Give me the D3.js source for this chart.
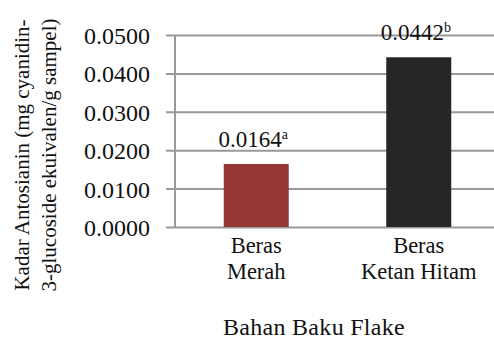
<!DOCTYPE html>
<html><head><meta charset="utf-8">
<script src="https://cdn.jsdelivr.net/npm/d3@7"></script>
</head><body style="margin:0;background:#fff"><svg id="c" width="494" height="341" style="font-family:'Times New Roman'"></svg>
<script>
const categories = [["Beras","Merah"],["Beras","Ketan Hitam"]];
const values = [0.0164, 0.0442];
const letters = ["a","b"];
const yTicks = [0, 0.01, 0.02, 0.03, 0.04, 0.05];
const barColors = ["#953735", "#262626"];
const yTitle = ["Kadar Antosianin (mg cyanidin-", "3-glucoside ekuivalen/g sampel)"];
const xTitle = "Bahan Baku Flake";

const svg = d3.select("#c");
const mL = 175, mR = 500, mT = 35, mB = 227;
const yScale = d3.scaleLinear().domain([0, 0.05]).range([mB, mT]);
const xScale = d3.scaleBand().domain(categories.map((d,i)=>i)).range([mL, mR]).padding(0);
const bw = xScale.bandwidth();

const yAxis = d3.axisLeft(yScale).tickValues(yTicks).tickFormat(d3.format(".4f"))
  .tickSize(-(494 - mL)).tickPadding(25);
const gAxis = svg.append("g").attr("transform", "translate(" + mL + ",0)").call(yAxis);
gAxis.attr("font-family", "Times New Roman").attr("font-size", 24);
gAxis.select(".domain").remove();
gAxis.selectAll(".tick line").attr("stroke", "#999").attr("stroke-width", 2).attr("x1", -9).attr("x2", 494 - mL);
gAxis.selectAll(".tick text").attr("fill", "#111").attr("dy", "0.35em");
svg.append("line").attr("x1", mL).attr("x2", mL).attr("y1", mT).attr("y2", mB)
  .attr("stroke", "#999").attr("stroke-width", 2);

svg.selectAll("rect.bar").data(values).join("rect").attr("class","bar")
  .attr("x", (d,i)=> xScale(i) + bw*0.3).attr("width", bw*0.4)
  .attr("y", d=>yScale(d)).attr("height", d=>mB - yScale(d))
  .attr("fill", (d,i)=>barColors[i]);

const vl = svg.selectAll("text.vl").data(values).join("text")
  .attr("class","vl").attr("text-anchor","middle").attr("font-family","Times New Roman").attr("font-size",23).attr("fill","#111")
  .attr("x",(d,i)=>xScale(i)+bw/2-3).attr("y", d=>yScale(d)-17);
vl.append("tspan").text(d=>d.toFixed(4));
vl.append("tspan").attr("font-size",14).attr("dy",-8).text((d,i)=>letters[i]);

categories.forEach((c,i)=>{
  const t = svg.append("text").attr("text-anchor","middle").attr("font-family","Times New Roman").attr("font-size",22.5).attr("fill","#111")
    .attr("x", xScale(i)+bw/2).attr("y", 253);
  c.forEach((s,j)=>t.append("tspan").attr("x", xScale(i)+bw/2).attr("dy", j?26:0).text(s));
});

svg.append("text").attr("text-anchor","middle").attr("font-family","Times New Roman").attr("font-size",24).attr("fill","#111")
  .attr("letter-spacing", 0.3).attr("x", 314).attr("y", 335).text(xTitle);

yTitle.forEach((s,i)=>{
  svg.append("text").attr("text-anchor","middle").attr("font-family","Times New Roman").attr("font-size",21).attr("fill","#111")
    .attr("transform", "translate(" + (29 + i*27) + ",155) rotate(-90)").text(s);
});
</script></body></html>
